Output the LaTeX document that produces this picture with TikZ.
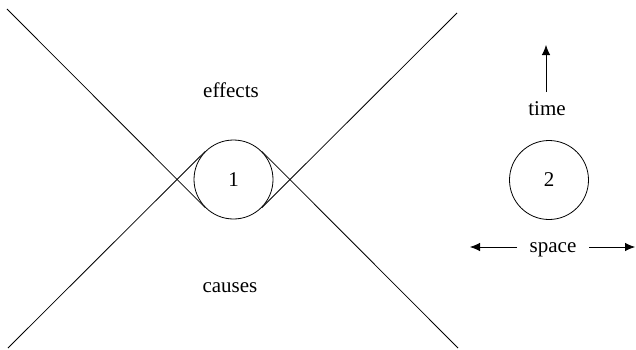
\documentclass[tikz,border=0pt]{standalone}
\usepackage{fontspec}
\setmainfont{Liberation Serif}
\usetikzlibrary{arrows.meta}
\begin{document}
\begin{tikzpicture}[x=1pt,y=1pt,
  lbl/.style={font=\fontsize{21}{24}\selectfont, inner sep=0pt},
  ball/.style={draw, circle, minimum size=79pt, inner sep=0pt, line width=0.8pt, font=\fontsize{21}{24}\selectfont},
  cone/.style={line width=0.8pt},
  arr/.style={line width=0.8pt, -{Latex[length=10pt,width=8.5pt]}}]
\useasboundingbox (0,0) rectangle (636,349);
% event circles
\node[ball] (c1) at (233.5,169.5) {1};
\node[ball] (c2) at (549,169) {2};
% cone end points
\coordinate (tl) at (7,340);
\coordinate (bl) at (8,1);
\coordinate (tr) at (457,336);
\coordinate (br) at (458,1);
\draw[cone] (tl) -- (c1.225);
\draw[cone] (bl) -- (c1.135);
\draw[cone] (tr) -- (c1.315);
\draw[cone] (br) -- (c1.45);
% labels
\node[lbl, anchor=base] (eff) at (231,252) {effects};
\node[lbl, anchor=base] (cau) at (230,57) {causes};
\node[lbl, anchor=base] (time) at (547,234) {time};
\node[lbl, anchor=base] (space) at (553,97) {space};
% arrows
\coordinate (t0) at (546,257);
\coordinate (t1) at (546,304);
\draw[arr] (t0) -- (t1);
\coordinate (s0) at (517,102);
\coordinate (s1) at (470,102);
\coordinate (s2) at (589,102);
\coordinate (s3) at (635,102);
\draw[arr] (s0) -- (s1);
\draw[arr] (s2) -- (s3);
\end{tikzpicture}
\end{document}
